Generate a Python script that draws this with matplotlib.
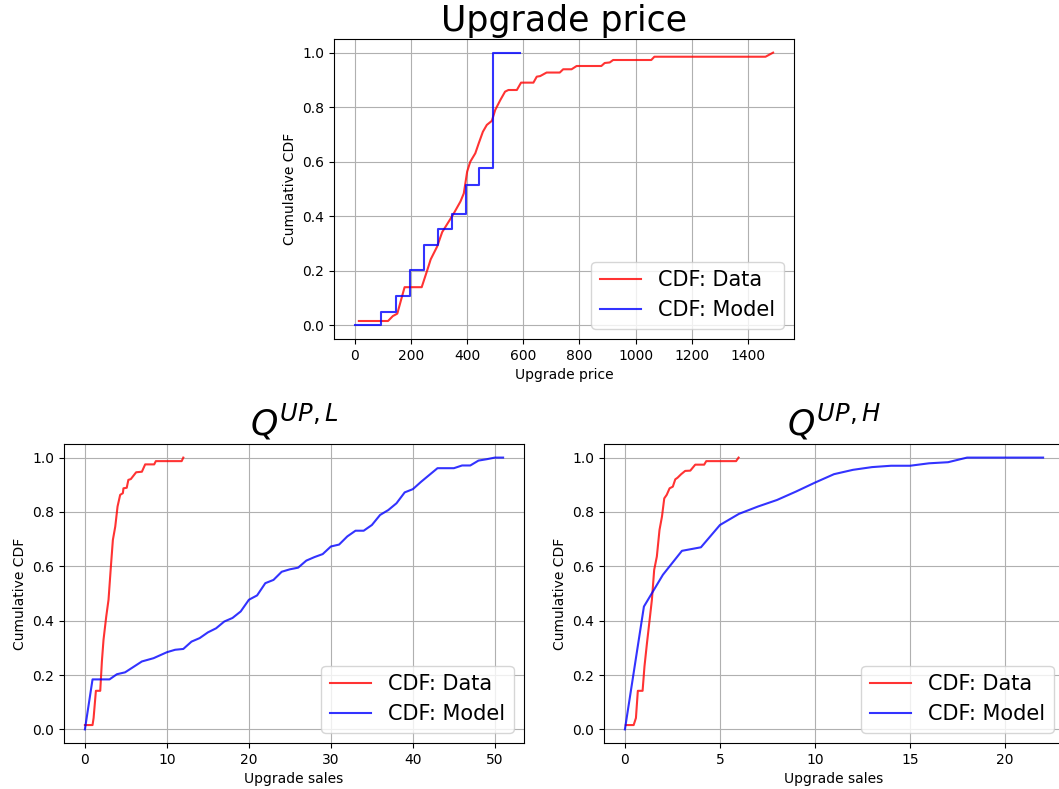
import numpy as np
import matplotlib
matplotlib.use("Agg")
import matplotlib.pyplot as plt

# Upgrade price: empirical CDF (data) and model step CDF
price_data_x = [14, 118, 135, 151, 177, 238, 258, 270, 293, 311, 334, 352, 376, 388, 400, 411,
                429, 441, 456, 470, 488, 500, 518, 535, 547, 577, 592, 636, 648, 660, 683, 730,
                742, 772, 790, 878, 890, 908, 920, 1056, 1067, 1463, 1490]
price_data_y = [0.016, 0.016, 0.034, 0.043, 0.14, 0.14, 0.203, 0.242, 0.289, 0.342, 0.38, 0.41,
                0.454, 0.484, 0.564, 0.6, 0.631, 0.667, 0.71, 0.735, 0.75, 0.79, 0.826, 0.857,
                0.863, 0.863, 0.89, 0.89, 0.912, 0.914, 0.927, 0.927, 0.939, 0.939, 0.951, 0.951,
                0.962, 0.964, 0.973, 0.973, 0.985, 0.985, 1.0]
price_model_x = [0, 92, 148, 196, 247, 297, 346, 397, 443, 492, 590]
price_model_y = [0, 0.049, 0.109, 0.204, 0.293, 0.354, 0.41, 0.513, 0.577, 1.0, 1.0]

# Q^{UP,L}
ql_data_x = [0, 0.93, 1.06, 1.34, 1.87, 2.07, 2.27, 2.6, 2.88, 3.17, 3.41, 3.7, 3.98, 4.3, 4.63,
             4.7, 5.1, 5.3, 5.6, 6.25, 6.95, 7.35, 8.45, 8.65, 11.8, 12.0]
ql_data_y = [0.016, 0.016, 0.042, 0.142, 0.142, 0.25, 0.33, 0.415, 0.477, 0.6, 0.697, 0.746, 0.82,
             0.863, 0.869, 0.887, 0.889, 0.918, 0.921, 0.946, 0.948, 0.975, 0.975, 0.987, 0.987, 1.0]
ql_model_x = [0, 0.93, 3.0, 3.9, 4.9, 6.95, 8.37, 10, 11, 12, 13, 14, 15, 16, 17, 18, 19, 20, 21,
              22, 23, 24, 25, 26, 27, 28, 29, 30, 31, 32, 33, 34, 35, 36, 37, 38, 39, 40, 41, 42,
              43, 44, 45, 46, 47, 48, 49, 50, 51]
ql_model_y = [0, 0.184, 0.184, 0.203, 0.21, 0.25, 0.262, 0.284, 0.293, 0.296, 0.323, 0.336, 0.357,
              0.372, 0.397, 0.41, 0.434, 0.477, 0.493, 0.538, 0.55, 0.58, 0.589, 0.595, 0.621,
              0.634, 0.645, 0.673, 0.68, 0.71, 0.731, 0.731, 0.752, 0.789, 0.807, 0.832, 0.872,
              0.884, 0.911, 0.936, 0.961, 0.961, 0.961, 0.971, 0.971, 0.989, 0.994, 1.0, 1.0]

# Q^{UP,H}
qh_data_x = [0.05, 0.46, 0.58, 0.68, 0.93, 1.03, 1.16, 1.3, 1.42, 1.54, 1.68, 1.82, 1.95, 2.07,
             2.2, 2.35, 2.52, 2.65, 2.77, 2.96, 3.17, 3.44, 3.7, 4.17, 4.28, 5.85, 5.98]
qh_data_y = [0.016, 0.016, 0.042, 0.142, 0.142, 0.232, 0.317, 0.403, 0.477, 0.587, 0.636, 0.734,
             0.783, 0.85, 0.863, 0.887, 0.893, 0.92, 0.926, 0.939, 0.951, 0.952, 0.974, 0.974,
             0.987, 0.987, 1.0]
qh_model_x = list(range(0, 23))
qh_model_y = [0, 0.452, 0.569, 0.657, 0.67, 0.752, 0.793, 0.82, 0.844, 0.875, 0.908, 0.939, 0.955,
              0.965, 0.97, 0.97, 0.979, 0.983, 1.0, 1.0, 1.0, 1.0, 1.0]

W, H = 1059, 789
DPI = 100
fig = plt.figure(figsize=(W / DPI, H / DPI), dpi=DPI)


def box(l, t, r, b):
    return [l / W, 1 - b / H, (r - l) / W, (b - t) / H]


def panel(ax, title, xlabel, dx, dy, mx, my, step=False):
    ax.plot(dx, dy, color="red", alpha=0.8, lw=1.5, label="CDF: Data")
    if step:
        ax.plot(mx, my, color="blue", alpha=0.8, lw=1.5, drawstyle="steps-post", label="CDF: Model")
    else:
        ax.plot(mx, my, color="blue", alpha=0.8, lw=1.5, label="CDF: Model")
    ax.set_title(title, fontsize=25)
    ax.set_xlabel(xlabel)
    ax.set_ylabel("Cumulative CDF")
    ax.grid(True)
    ax.legend(loc="lower right", fontsize=15)


ax1 = fig.add_axes(box(334, 39, 794, 339))
panel(ax1, "Upgrade price", "Upgrade price", price_data_x, price_data_y,
      price_model_x, price_model_y, step=True)
ax1.set_xticks(np.arange(0, 1401, 200))

ax2 = fig.add_axes(box(64, 444, 524, 743))
panel(ax2, r"$Q^{UP,L}$", "Upgrade sales", ql_data_x, ql_data_y, ql_model_x, ql_model_y)

ax3 = fig.add_axes(box(604, 444, 1064, 743))
panel(ax3, r"$Q^{UP,H}$", "Upgrade sales", qh_data_x, qh_data_y, qh_model_x, qh_model_y)

fig.savefig("out.png", dpi=DPI)
